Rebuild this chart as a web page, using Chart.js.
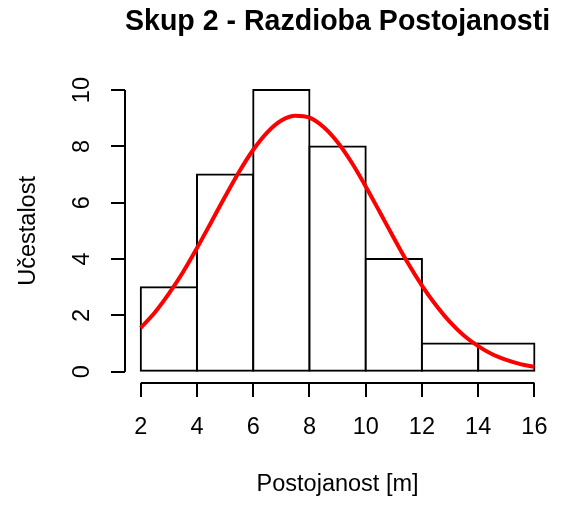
<!DOCTYPE html>
<html>
<head>
<meta charset="utf-8">
<script src="https://cdn.jsdelivr.net/npm/chart.js"></script>
<style>
  body { margin: 0; background: #fff; }
  canvas { display: block; }
</style>
</head>
<body>
<canvas id="grafica" width="564" height="506"></canvas>
<script>
// histogram: sredine razreda i frekvencije
const sredineRazreda = [3, 5, 7, 9, 11, 13, 15];
const frekvencije = [3, 7, 10, 8, 4, 1, 1];

// crvena krivulja (ocitano sa slike)
const krivuljaX = [2, 2.5, 3, 3.5, 4, 4.5, 5, 5.5, 6, 6.5, 7, 7.5, 8, 8.5, 9, 9.5,
  10, 10.5, 11, 11.5, 12, 12.5, 13, 13.5, 14, 14.5, 15, 15.5, 16];
const krivuljaY = [1.56, 2.10, 2.77, 3.53, 4.39, 5.30, 6.22, 7.10, 7.88, 8.50, 8.92, 9.09,
  9.02, 8.69, 8.15, 7.43, 6.58, 5.67, 4.75, 3.86, 3.06, 2.36, 1.76, 1.28, 0.91, 0.62,
  0.42, 0.27, 0.17];

const xOznake = [2, 4, 6, 8, 10, 12, 14, 16];
const yOznake = [0, 2, 4, 6, 8, 10];

const naslov = "Skup 2 - Razdioba Postojanosti";
const naslovX = "Postojanost [m]";
const naslovY = "Učestalost";

const font = "'Liberation Sans', Arial, sans-serif";

// R-ovske osi: linija samo od prve do zadnje oznake
const osi = {
  id: "osi",
  afterDraw(chart) {
    const ctx = chart.ctx;
    const x = chart.scales.x;
    const y = chart.scales.y;
    const a = chart.chartArea;
    ctx.save();
    ctx.strokeStyle = "#000";
    ctx.lineWidth = 2;
    ctx.beginPath();
    ctx.moveTo(x.getPixelForValue(xOznake[0]), a.bottom);
    ctx.lineTo(x.getPixelForValue(xOznake[xOznake.length - 1]), a.bottom);
    ctx.moveTo(a.left, y.getPixelForValue(yOznake[0]));
    ctx.lineTo(a.left, y.getPixelForValue(yOznake[yOznake.length - 1]));
    ctx.stroke();
    ctx.restore();
  }
};

new Chart(document.getElementById("grafica"), {
  type: "bar",
  data: {
    datasets: [
      {
        type: "line",
        data: krivuljaX.map((v, i) => ({ x: v, y: krivuljaY[i] })),
        borderColor: "#ff0000",
        borderWidth: 4,
        pointRadius: 0,
        cubicInterpolationMode: "monotone",
        fill: false,
        order: 0
      },
      {
        type: "bar",
        data: sredineRazreda.map((v, i) => ({ x: v, y: frekvencije[i] })),
        backgroundColor: "#ffffff",
        borderColor: "#000000",
        borderWidth: 2,
        borderSkipped: false,
        inflateAmount: 1,
        barPercentage: 1,
        categoryPercentage: 1,
        order: 1
      }
    ]
  },
  options: {
    responsive: false,
    animation: false,
    layout: { padding: { right: 12 } },
    plugins: {
      legend: { display: false },
      tooltip: { enabled: false },
      title: {
        display: true,
        text: naslov,
        fullSize: false,
        color: "#000",
        font: { family: font, size: 29, weight: "bold" },
        padding: { top: 5, bottom: 39 }
      }
    },
    scales: {
      x: {
        type: "linear",
        min: 1.44,
        max: 16.56,
        offset: false,
        afterBuildTicks: (s) => { s.ticks = xOznake.map((v) => ({ value: v })); },
        afterFit: (s) => { s.height = 123; },
        border: { display: false },
        grid: { offset: false, drawOnChartArea: false, drawTicks: true, tickLength: 14, color: "#000", lineWidth: 2 },
        ticks: { autoSkip: false, maxRotation: 0, padding: 16, color: "#000", font: { family: font, size: 23.5 } },
        title: { display: true, text: naslovX, color: "#000", font: { family: font, size: 23.5 }, padding: { top: 0, bottom: 7 } }
      },
      y: {
        min: -0.4,
        max: 10.4,
        afterBuildTicks: (s) => { s.ticks = yOznake.map((v) => ({ value: v })); },
        afterFit: (s) => { s.width = 125; },
        border: { display: false },
        grid: { drawOnChartArea: false, drawTicks: true, tickLength: 14, color: "#000", lineWidth: 2 },
        ticks: { autoSkip: false, minRotation: 90, maxRotation: 90, crossAlign: "center", padding: 15, color: "#000", font: { family: font, size: 23.5 } },
        title: { display: true, text: naslovY, color: "#000", font: { family: font, size: 23.5 }, padding: { top: 14, bottom: 0 } }
      }
    }
  },
  plugins: [osi]
});
</script>
</body>
</html>
